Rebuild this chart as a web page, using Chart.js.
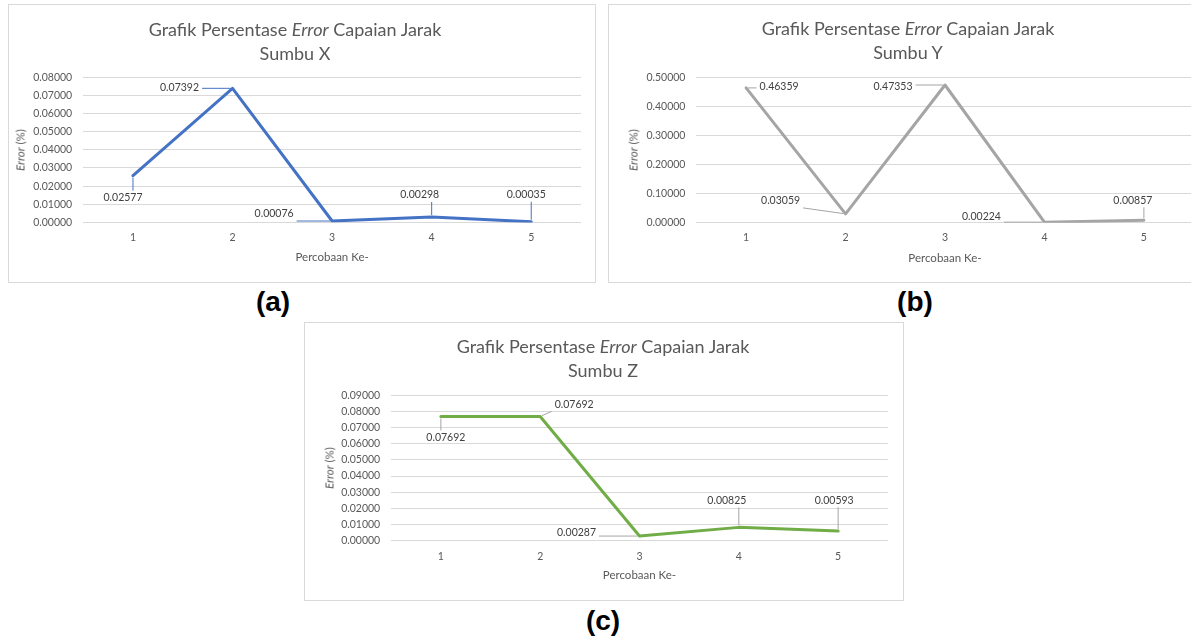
<!DOCTYPE html>
<html>
<head>
<meta charset="utf-8">
<script src="https://cdn.jsdelivr.net/npm/chart.js@4.4.1/dist/chart.umd.min.js"></script>
<style>
  html, body { margin: 0; padding: 0; background: #fff; }
  body { width: 1191px; height: 636px; position: relative; overflow: hidden; font-family: Lato, "Noto Sans", sans-serif; }
  canvas { position: absolute; }
  .box { position: absolute; border: 1px solid #d9d9d9; box-sizing: border-box; }
  .title { position: absolute; width: 400px; text-align: center; color: #595959; font-size: 18px; line-height: 24px; white-space: nowrap; }
  .ylab { position: absolute; color: #595959; font-size: 11.5px; white-space: nowrap; transform: translate(-50%, -50%) rotate(-90deg); }
  .tag { position: absolute; font-family: "Liberation Sans", Arial, sans-serif; font-weight: bold; font-size: 28px; color: #000; transform: translate(-50%, -50%); }
</style>
</head>
<body>

<div class="box" style="left:8px; top:4px; width:588px; height:279px;"></div>
<div class="box" style="left:608px; top:4px; width:600px; height:279px;"></div>
<div class="box" style="left:304px; top:322px; width:600px; height:279px;"></div>

<canvas id="chartX" width="588" height="279" style="left:8px; top:4px;"></canvas>
<canvas id="chartY" width="600" height="279" style="left:608px; top:4px;"></canvas>
<canvas id="chartZ" width="600" height="279" style="left:304px; top:322px;"></canvas>

<div class="title" style="left:95px; top:17px;">Grafik Persentase <i>Error</i> Capaian Jarak<br>Sumbu X</div>
<div class="title" style="left:708px; top:16px;">Grafik Persentase <i>Error</i> Capaian Jarak<br>Sumbu Y</div>
<div class="title" style="left:403px; top:334px;">Grafik Persentase <i>Error</i> Capaian Jarak<br>Sumbu Z</div>

<div class="ylab" style="left:20px; top:150px;"><i>Error</i> (%)</div>
<div class="ylab" style="left:633px; top:150px;"><i>Error</i> (%)</div>
<div class="ylab" style="left:329px; top:468px;"><i>Error</i> (%)</div>

<div class="tag" style="left:273px; top:302px;">(a)</div>
<div class="tag" style="left:915px; top:302px;">(b)</div>
<div class="tag" style="left:603px; top:621px;">(c)</div>

<script>
// data
const categories = ["1", "2", "3", "4", "5"];
const errorX = [0.02577, 0.07392, 0.00076, 0.00298, 0.00035];
const errorY = [0.46359, 0.03059, 0.47353, 0.00224, 0.00857];
const errorZ = [0.07692, 0.07692, 0.00287, 0.00825, 0.00593];
const yMaxX = 0.08, yStepX = 0.01;
const yMaxY = 0.5, yStepY = 0.1;
const yMaxZ = 0.09, yStepZ = 0.01;
const xTitle = "Percobaan Ke-";

// where each data label sits relative to its point (px)
const labelPosX = [[-10, 22], [-53, -1], [-58, -7], [-12, -22], [-5, -27]];
const labelPosY = [[33, -1], [-65, -13], [-52, 2], [-63, -6], [-11, -20]];
const labelPosZ = [[5, 21], [34, -12], [-63, -3], [-12, -27], [-4, -31]];

const TEXT = "#595959";
const GRID = "#d9d9d9";

// draws value labels with Excel style leader lines
const leaderLabels = {
  id: "leaderLabels",
  afterDatasetsDraw(chart, args, opts) {
    const ctx = chart.ctx;
    const meta = chart.getDatasetMeta(0);
    const values = chart.data.datasets[0].data;
    ctx.save();
    ctx.font = "10.5px Lato";
    ctx.textAlign = "center";
    ctx.textBaseline = "middle";
    meta.data.forEach((pt, i) => {
      const off = opts.offsets[i];
      const text = values[i].toFixed(5);
      const lx = pt.x + off[0];
      const ly = pt.y + off[1];
      const hw = ctx.measureText(text).width / 2 + 3;
      const hh = 7;
      const cx = Math.max(lx - hw, Math.min(pt.x, lx + hw));
      const cy = Math.max(ly - hh, Math.min(pt.y, ly + hh));
      const d = Math.hypot(pt.x - cx, pt.y - cy);
      if (d > 5) {
        const ex = pt.x - (pt.x - cx) * 2 / d;
        const ey = pt.y - (pt.y - cy) * 2 / d;
        ctx.strokeStyle = opts.leaderColor;
        ctx.lineWidth = 1;
        ctx.beginPath();
        ctx.moveTo(cx, cy);
        ctx.lineTo(ex, ey);
        ctx.stroke();
      }
      ctx.fillStyle = "#404040";
      ctx.fillText(text, lx, ly);
    });
    ctx.restore();
  }
};

function makeChart(id, values, color, leaderColor, yMax, yStep, area, offsets, tickPad, titlePad) {
  const canvas = document.getElementById(id);
  const W = canvas.width, H = canvas.height;
  return new Chart(canvas, {
    type: "line",
    data: {
      labels: categories,
      datasets: [{
        data: values,
        borderColor: color,
        borderWidth: 3,
        borderJoinStyle: "round",
        borderCapStyle: "round",
        pointRadius: 0,
        tension: 0,
        fill: false
      }]
    },
    options: {
      responsive: false,
      animation: false,
      layout: { padding: { left: 0, top: area.top, right: W - area.right, bottom: 0 } },
      plugins: {
        legend: { display: false },
        tooltip: { enabled: false },
        leaderLabels: { offsets: offsets, leaderColor: leaderColor }
      },
      scales: {
        x: {
          type: "category",
          offset: true,
          grid: { display: false },
          border: { display: false },
          ticks: { color: TEXT, font: { family: "Lato", size: 10.5 }, padding: tickPad, maxRotation: 0 },
          title: { display: true, text: xTitle, color: TEXT, font: { family: "Lato", size: 11.5 }, padding: { top: 0, bottom: titlePad } },
          afterFit: (scale) => { scale.height = H - area.bottom; }
        },
        y: {
          min: 0,
          max: yMax,
          border: { display: false },
          grid: { color: GRID, lineWidth: 1, drawTicks: false },
          ticks: {
            stepSize: yStep,
            padding: 11,
            color: TEXT,
            font: { family: "Lato", size: 10.5 },
            callback: (v) => Number(v).toFixed(5)
          },
          afterFit: (scale) => { scale.width = area.left; }
        }
      }
    },
    plugins: [leaderLabels]
  });
}

makeChart("chartX", errorX, "#4472c4", "#4472c4", yMaxX, yStepX,
  { left: 75.2, right: 573, top: 73.3, bottom: 218.4 }, labelPosX, 1, 18.4);
makeChart("chartY", errorY, "#a5a5a5", "#a5a5a5", yMaxY, yStepY,
  { left: 88.4, right: 585.6, top: 73.3, bottom: 218.8 }, labelPosY, 0.6, 17.7);
makeChart("chartZ", errorZ, "#70ad47", "#a5a5a5", yMaxZ, yStepZ,
  { left: 87.2, right: 583.8, top: 73.3, bottom: 218.7 }, labelPosZ, 1.7, 18.7);
</script>
</body>
</html>
